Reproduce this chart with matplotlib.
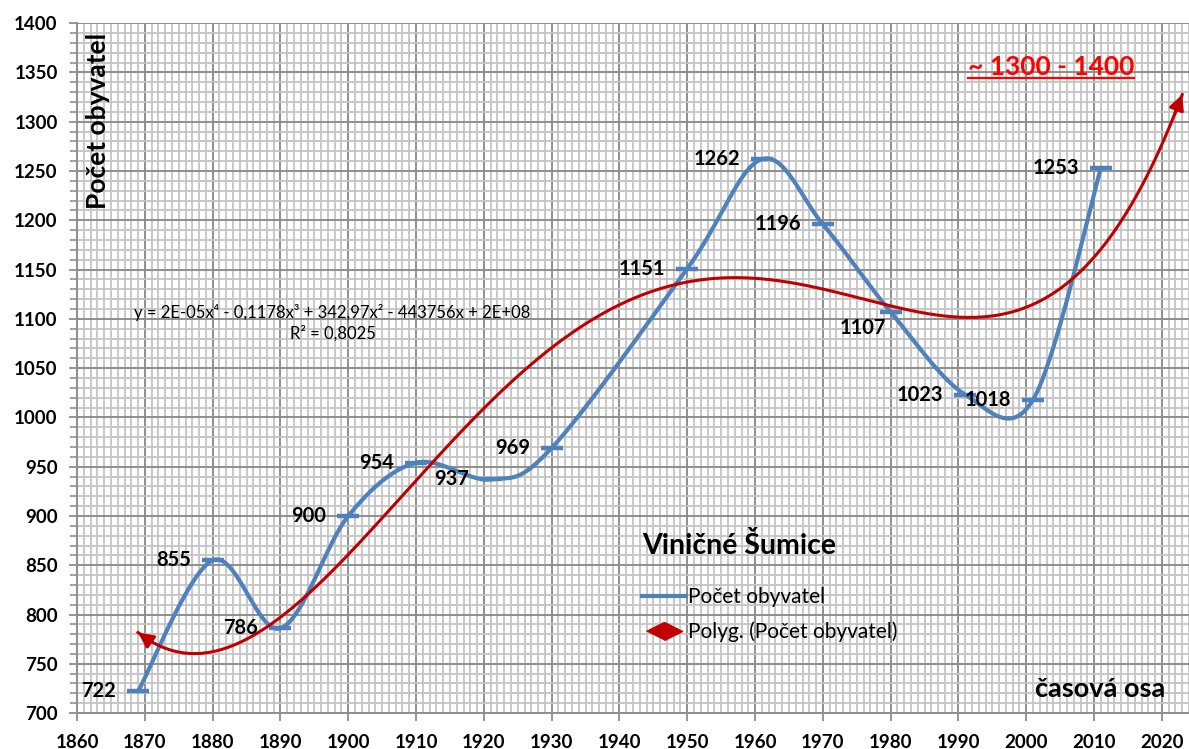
"""
Viničné Šumice population chart with polynomial trend.
"""

import matplotlib
matplotlib.use("Agg")
import matplotlib.pyplot as plt
import numpy as np
from matplotlib.lines import Line2D
from matplotlib.ticker import MultipleLocator

plt.rcParams["font.family"] = ["Lato", "DejaVu Sans"]

years = [1869, 1880, 1890, 1900, 1910, 1921, 1930, 1950, 1961, 1970, 1980, 1991, 2001, 2011]
population = [722, 855, 786, 900, 954, 937, 969, 1151, 1262, 1196, 1107, 1023, 1018, 1253]

# labels that sit below the point instead of left of it
below_labels = [1107]

forecast_to = 2023
equation_text = "y = 2E-05x⁴ - 0,1178x³ + 342,97x² - 443756x + 2E+08"
r2_text = "R² = 0,8025"

BLUE = "#4f81bd"
RED = "#c00000"


def smooth(xs, ys, n=40):
    # Excel-like smoothed line: cubic bezier with catmull-rom control points
    pts = np.column_stack([xs, ys]).astype(float)
    out = []
    for i in range(len(pts) - 1):
        p0 = pts[max(i - 1, 0)]
        p1 = pts[i]
        p2 = pts[i + 1]
        p3 = pts[min(i + 2, len(pts) - 1)]
        c1 = p1 + (p2 - p0) / 6
        c2 = p2 - (p3 - p1) / 6
        t = np.linspace(0, 1, n)[:, None]
        seg = (1 - t) ** 3 * p1 + 3 * (1 - t) ** 2 * t * c1 + 3 * (1 - t) * t ** 2 * c2 + t ** 3 * p2
        out.append(seg if i == 0 else seg[1:])
    out = np.vstack(out)
    return out[:, 0], out[:, 1]


fig = plt.figure(figsize=(11.89, 7.49), dpi=100)
ax = fig.add_axes([0.0648, 0.048, 0.9352, 0.921])

ax.set_xlim(1860, 2024)
ax.set_ylim(700, 1400)
ax.xaxis.set_major_locator(MultipleLocator(10))
ax.xaxis.set_minor_locator(MultipleLocator(1))
ax.yaxis.set_major_locator(MultipleLocator(50))
ax.yaxis.set_minor_locator(MultipleLocator(10))
ax.grid(which="minor", color="#c4c4c4", linewidth=1.3)
ax.grid(which="major", color="#8e8e8e", linewidth=1.4)
ax.set_axisbelow(True)

for side in ["top", "right"]:
    ax.spines[side].set_visible(False)
for side in ["left", "bottom"]:
    ax.spines[side].set_color("#8e8e8e")
    ax.spines[side].set_linewidth(1.4)

ax.tick_params(axis="both", which="major", length=6, width=1.3, color="#8e8e8e",
               labelsize=13.5, pad=8)
ax.tick_params(axis="y", which="minor", length=5, width=1.2, color="#8e8e8e")
ax.tick_params(axis="x", which="minor", length=0)
ax.tick_params(axis="x", which="major", pad=9)
for lab in ax.get_xticklabels() + ax.get_yticklabels():
    lab.set_fontweight("bold")

# population line
sx, sy = smooth(years, population)
ax.plot(sx, sy, color=BLUE, linewidth=3, solid_capstyle="round", zorder=3)
ax.plot(years, population, linestyle="none", marker="_", markersize=16,
        markeredgewidth=3.2, color=BLUE, zorder=4)

# polynomial trend (order 4), forecast forward
poly = np.polynomial.Polynomial.fit(years, population, 4)
tx = np.linspace(years[0], forecast_to, 400)
ty = poly(tx)
ax.plot(tx, ty, color=RED, linewidth=2.2, zorder=5)
arrow = dict(arrowstyle="-|>,head_length=0.9,head_width=0.45", color=RED, lw=2.2,
             shrinkA=0, shrinkB=0)
ax.annotate("", xy=(tx[0], ty[0]), xytext=(tx[3], ty[3]), arrowprops=arrow, zorder=5)
ax.annotate("", xy=(tx[-1], ty[-1]), xytext=(tx[-4], ty[-4]), arrowprops=arrow, zorder=5)

# data labels
for x, y in zip(years, population):
    if y in below_labels:
        ax.annotate(str(y), (x, y), xytext=(-5, -16), textcoords="offset pixels",
                    ha="right", va="center", fontsize=14.5, fontweight="bold", zorder=6)
    else:
        ax.annotate(str(y), (x, y), xytext=(-22, 0), textcoords="offset pixels",
                    ha="right", va="center", fontsize=14.5, fontweight="bold", zorder=6)

ax.text(1897.7, 1106.7, equation_text, ha="center", va="center", fontsize=12, zorder=6)
ax.text(1897.7, 1085.4, r2_text, ha="center", va="center", fontsize=12, zorder=6)

ax.text(0.019, 0.859, "Počet obyvatel", transform=ax.transAxes, rotation=90,
        ha="center", va="center", fontsize=19, fontweight="bold")
ax.text(0.92, 0.035, "časová osa", transform=ax.transAxes,
        ha="center", va="center", fontsize=19.5, fontweight="bold")
note = ax.text(0.876, 0.936, "~ 1300 - 1400", transform=ax.transAxes,
               ha="center", va="center", fontsize=19, fontweight="bold", color="#ff0000")

handles = [
    Line2D([], [], color=BLUE, linewidth=3),
    Line2D([], [], linestyle="none", color=RED, markersize=26,
           marker=[(-1, 0), (0, 0.5), (1, 0), (0, -0.5)]),
]
leg = ax.legend(handles, ["Počet obyvatel", "Polyg. (Počet obyvatel)"],
                loc="upper left", bbox_to_anchor=(0.508, 0.262), frameon=False,
                fontsize=15, handlelength=2.1, handletextpad=0.1, labelspacing=0.7,
                borderpad=0, borderaxespad=0, title="Viničné Šumice",
                title_fontproperties={"size": 20.5, "weight": "bold"}, alignment="left")
leg.get_title().set_fontfamily(["Lato", "DejaVu Sans"])
leg._legend_box.sep = 20

# underline the forecast note
fig.canvas.draw()
bb = note.get_window_extent()
fig.add_artist(Line2D([bb.x0, bb.x1], [bb.y0 + 1, bb.y0 + 1], transform=None,
                      color="#ff0000", linewidth=1.6))

fig.savefig("out.png", dpi=100)
